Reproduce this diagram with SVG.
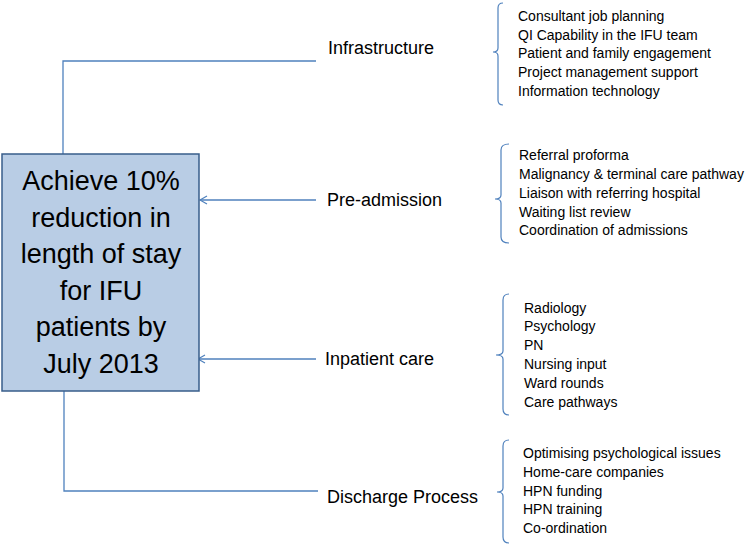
<svg xmlns="http://www.w3.org/2000/svg" width="752" height="545" viewBox="0 0 752 545">
<style>
.conn{fill:none;stroke:#4f81bd;stroke-width:1.3}
.br{fill:none;stroke:#4f81bd;stroke-width:1.2}
.lbl{font-family:"Liberation Sans",Arial,sans-serif;font-size:18px;fill:#000}
.item{font-family:"Liberation Sans",Arial,sans-serif;font-size:14px;fill:#000}
.goal{font-family:"Liberation Sans",Arial,sans-serif;font-size:27px;fill:#000;text-anchor:middle}
</style>
<defs>
<marker id="arr" markerWidth="10" markerHeight="10" refX="8" refY="5" orient="auto" markerUnits="userSpaceOnUse">
<path d="M1,1 L8,5 L1,9" fill="none" stroke="#4f81bd" stroke-width="1.2"/>
</marker>
</defs>
<rect width="752" height="545" fill="#fff"/>
<g id="connectors">
<path class="conn" d="M63,154 V61 H316"/>
<path class="conn" d="M64,391 V491 H318"/>
<line class="conn" x1="316" y1="200" x2="200" y2="200" marker-end="url(#arr)"/>
<line class="conn" x1="316" y1="359" x2="198" y2="359" marker-end="url(#arr)"/>
</g>
<g id="goal">
<rect x="2" y="154" width="197" height="237" fill="#b9cde5" stroke="#385d8a" stroke-width="1.5"/>
<text class="goal" x="101" y="190">Achieve 10%</text>
<text class="goal" x="101" y="227">reduction in</text>
<text class="goal" x="101" y="263">length of stay</text>
<text class="goal" x="101" y="300">for IFU</text>
<text class="goal" x="101" y="336">patients by</text>
<text class="goal" x="101" y="373">July 2013</text>
</g>
<g id="infrastructure">
<text class="lbl" x="328" y="54">Infrastructure</text>
<path class="br" d="M503,3 Q498,3 498,8 V48 Q498,52 493,52 Q498,52 498,56 V100 Q498,105 503,105"/>
<text class="item" x="518" y="21">Consultant job planning</text>
<text class="item" x="518" y="40">QI Capability in the IFU team</text>
<text class="item" x="518" y="58">Patient and family engagement</text>
<text class="item" x="518" y="77">Project management support</text>
<text class="item" x="518" y="96">Information technology</text>
</g>
<g id="pre-admission">
<text class="lbl" x="327" y="206">Pre-admission</text>
<path class="br" d="M509,144 Q501,144 501,150 V195 Q501,199 495,199 Q501,199 501,203 V237 Q501,243 509,243"/>
<text class="item" x="519" y="160">Referral proforma</text>
<text class="item" x="519" y="179">Malignancy &amp; terminal care pathway</text>
<text class="item" x="519" y="198">Liaison with referring hospital</text>
<text class="item" x="519" y="217">Waiting list review</text>
<text class="item" x="519" y="235">Coordination of admissions</text>
</g>
<g id="inpatient-care">
<text class="lbl" x="325" y="365">Inpatient care</text>
<path class="br" d="M509,294 Q503,294 503,300 V351 Q503,355 496,355 Q503,355 503,359 V409 Q503,415 509,415"/>
<text class="item" x="524" y="313">Radiology</text>
<text class="item" x="524" y="331">Psychology</text>
<text class="item" x="524" y="350">PN</text>
<text class="item" x="524" y="369">Nursing input</text>
<text class="item" x="524" y="388">Ward rounds</text>
<text class="item" x="524" y="407">Care pathways</text>
</g>
<g id="discharge-process">
<text class="lbl" x="327" y="503">Discharge Process</text>
<path class="br" d="M509,440 Q503,440 503,446 V488 Q503,492 497,492 Q503,492 503,496 V537 Q503,543 509,543"/>
<text class="item" x="523" y="458">Optimising psychological issues</text>
<text class="item" x="523" y="477">Home-care companies</text>
<text class="item" x="523" y="496">HPN funding</text>
<text class="item" x="523" y="514">HPN training</text>
<text class="item" x="523" y="533">Co-ordination</text>
</g>
</svg>
